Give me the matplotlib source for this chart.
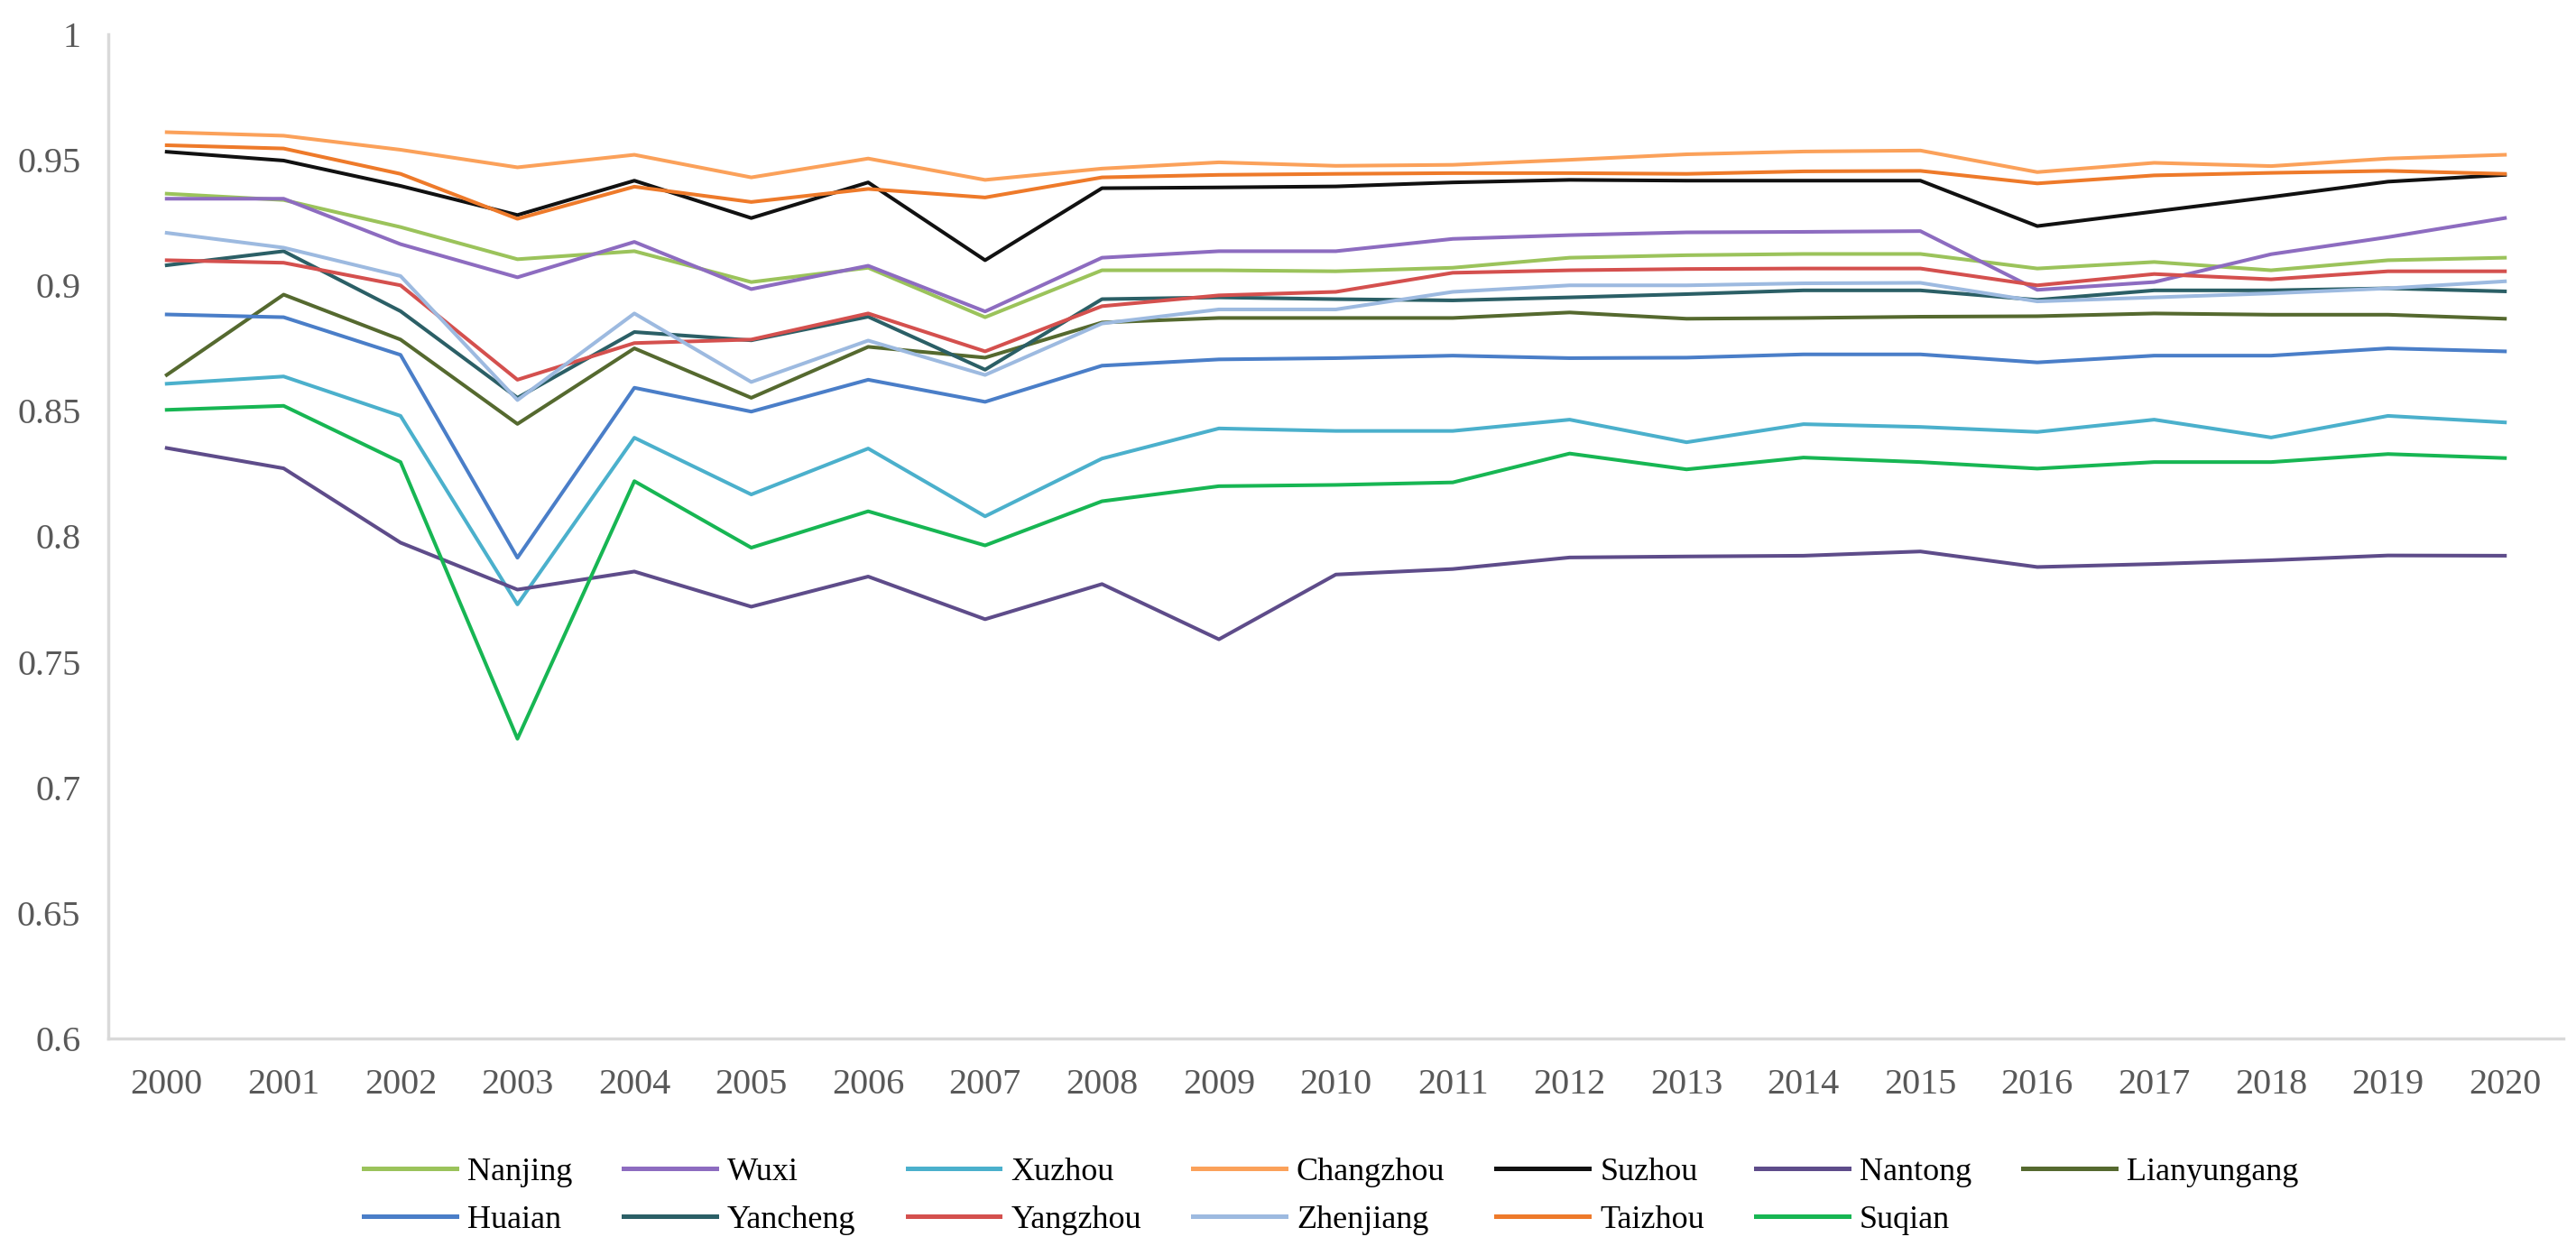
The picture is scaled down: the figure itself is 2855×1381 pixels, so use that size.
import numpy as np
import matplotlib
matplotlib.use("Agg")
from matplotlib import pyplot as plt

plt.rcParams['font.family'] = ['Liberation Serif', 'DejaVu Serif']

years = [str(y) for y in range(2000, 2021)]

# values
nanjing = [0.9365, 0.934, 0.9232, 0.9104, 0.9136, 0.9013, 0.907, 0.8873, 0.906, 0.906, 0.9056,
           0.907, 0.911, 0.912, 0.9125, 0.9125, 0.9067, 0.9093, 0.906, 0.910, 0.911]
wuxi = [0.9345, 0.9345, 0.9164, 0.9032, 0.9173, 0.8985, 0.9078, 0.8896, 0.911, 0.9136, 0.9136,
        0.9185, 0.920, 0.9211, 0.9213, 0.9216, 0.8982, 0.9013, 0.9124, 0.9192, 0.9268]
xuzhou = [0.8608, 0.8637, 0.848, 0.7729, 0.8393, 0.8167, 0.835, 0.808, 0.831, 0.843, 0.842,
          0.842, 0.8465, 0.8375, 0.8447, 0.8436, 0.8416, 0.8465, 0.8394, 0.848, 0.8454]
changzhou = [0.961, 0.9596, 0.954, 0.947, 0.952, 0.943, 0.9505, 0.942, 0.9465, 0.949, 0.9476,
             0.948, 0.950, 0.9522, 0.9533, 0.9537, 0.9451, 0.9488, 0.9475, 0.9505, 0.952]
suzhou = [0.9532, 0.9497, 0.9396, 0.928, 0.9417, 0.9268, 0.941, 0.910, 0.9387, 0.939, 0.9394,
          0.941, 0.942, 0.9417, 0.9417, 0.9417, 0.9236, 0.9294, 0.9352, 0.9413, 0.944]
nantong = [0.8352, 0.8271, 0.7975, 0.7788, 0.786, 0.772, 0.784, 0.767, 0.781, 0.759, 0.7848,
           0.787, 0.7916, 0.792, 0.7923, 0.794, 0.7878, 0.789, 0.7905, 0.7924, 0.7923]
lianyungang = [0.8643, 0.8963, 0.8784, 0.8448, 0.8749, 0.8552, 0.8755, 0.8712, 0.8852, 0.887, 0.887,
               0.887, 0.8892, 0.8867, 0.887, 0.8875, 0.8877, 0.8888, 0.8883, 0.8883, 0.8867]
huaian = [0.8884, 0.8873, 0.8723, 0.7915, 0.8592, 0.8497, 0.8624, 0.8536, 0.868, 0.8705, 0.871,
          0.872, 0.871, 0.8712, 0.8725, 0.8725, 0.8693, 0.872, 0.872, 0.8749, 0.8737]
yancheng = [0.908, 0.9136, 0.8897, 0.8552, 0.8814, 0.8781, 0.8875, 0.8664, 0.8945, 0.8952, 0.8945,
            0.894, 0.8952, 0.8965, 0.898, 0.898, 0.8942, 0.898, 0.898, 0.8988, 0.8976]
yangzhou = [0.910, 0.909, 0.900, 0.8624, 0.877, 0.8784, 0.8888, 0.8737, 0.8917, 0.896, 0.8974,
            0.905, 0.906, 0.9065, 0.9067, 0.9067, 0.900, 0.9045, 0.9024, 0.9056, 0.9056]
zhenjiang = [0.9209, 0.915, 0.9037, 0.8543, 0.8888, 0.8615, 0.878, 0.8643, 0.8848, 0.8904, 0.8904,
             0.8974, 0.900, 0.900, 0.9008, 0.901, 0.8936, 0.8952, 0.8968, 0.8988, 0.9016]
taizhou = [0.9558, 0.9545, 0.9444, 0.9265, 0.9393, 0.9332, 0.9384, 0.935, 0.943, 0.944, 0.9444,
           0.9447, 0.9447, 0.9444, 0.9454, 0.9456, 0.9406, 0.9438, 0.9448, 0.9456, 0.9444]
suqian = [0.8504, 0.852, 0.8296, 0.7194, 0.822, 0.7955, 0.810, 0.7964, 0.814, 0.820, 0.8205,
          0.8215, 0.833, 0.8267, 0.8314, 0.8296, 0.827, 0.8296, 0.8296, 0.8328, 0.8312]

cities = ["Nanjing", "Wuxi", "Xuzhou", "Changzhou", "Suzhou", "Nantong", "Lianyungang",
          "Huaian", "Yancheng", "Yangzhou", "Zhenjiang", "Taizhou", "Suqian"]
series = [nanjing, wuxi, xuzhou, changzhou, suzhou, nantong, lianyungang,
          huaian, yancheng, yangzhou, zhenjiang, taizhou, suqian]
colors = ["#9BC35B", "#8D6CC0", "#4BB0CC", "#FBA15A", "#111111", "#5E4C8A", "#55692F",
          "#4A7EC8", "#2B5F66", "#D4504E", "#9DBAE0", "#EE7A2A", "#17B653"]

fig = plt.figure(figsize=(28.55, 13.81), dpi=100)
ax = fig.add_axes([120 / 2855, 1 - 1151 / 1381, (2841 - 120) / 2855, (1151 - 38) / 1381])

x = np.arange(len(years))
lines = {}
for name, vals, c in zip(cities, series, colors):
    ln, = ax.plot(x, vals, color=c, lw=2.9, solid_joinstyle='round', label=name)
    lines[name] = ln

ax.set_xlim(-0.5, len(years) - 0.5)
ax.set_ylim(0.6, 1.0)
ax.set_xticks(x)
ax.set_xticklabels(years)
yt = [0.6, 0.65, 0.7, 0.75, 0.8, 0.85, 0.9, 0.95, 1.0]
ax.set_yticks(yt)
ax.set_yticklabels(["%g" % v for v in yt])
ax.tick_params(length=0, labelsize=29, labelcolor="#595959")
ax.tick_params(axis='y', pad=22)
ax.tick_params(axis='x', pad=24)

for s in ["top", "right"]:
    ax.spines[s].set_visible(False)
for s in ["left", "bottom"]:
    ax.spines[s].set_color("#D9D9D9")
    ax.spines[s].set_linewidth(2.5)

# legend goes row by row like the original, matplotlib fills by column
order = ["Nanjing", "Huaian", "Wuxi", "Yancheng", "Xuzhou", "Yangzhou", "Changzhou",
         "Zhenjiang", "Suzhou", "Taizhou", "Nantong", "Suqian", "Lianyungang"]
leg = fig.legend([lines[n] for n in order], order, ncol=7, loc="center",
                 bbox_to_anchor=(0.5167, 0.040), frameon=False, fontsize=26,
                 handlelength=2.85, handletextpad=0.33, columnspacing=1.58,
                 labelspacing=0.55, borderpad=0, borderaxespad=0)
for h in leg.legend_handles:
    h.set_linewidth(3.6)

fig.savefig("out.png", dpi=100)
